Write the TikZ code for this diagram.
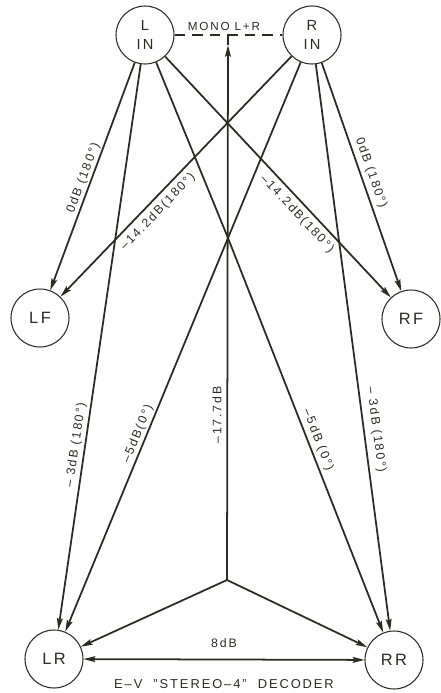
\documentclass[tikz,border=0pt]{standalone}
\usepackage{fontspec}
\setmainfont{Liberation Sans}[LetterSpace=15]
\usetikzlibrary{arrows.meta}
\definecolor{ink}{HTML}{2A2C22}
\begin{document}
\begin{tikzpicture}[x=0.03cm,y=-0.03cm,
  circ/.style={circle,draw=ink,line width=0.9pt,minimum size=1.74cm,inner sep=0pt,text=ink},
  conn/.style={draw=ink,line width=1.5pt,-{Stealth[length=10pt,width=5pt,inset=1.6pt]}},
  plainln/.style={draw=ink,line width=1.5pt},
  lab/.style={font=\fontsize{10.5}{12}\selectfont,text=ink,inner sep=0pt}]
\useasboundingbox (0,0) rectangle (440,693);
% nodes
\node[circ,align=center,font=\fontsize{12.5}{17}\selectfont] (LIN) at (145,35) {L\\IN};
\node[circ,align=center,font=\fontsize{12.5}{17}\selectfont] (RIN) at (312,35) {R\\IN};
\node[circ,font=\fontsize{14}{16}\selectfont] (LF) at (40,318) {LF};
\node[circ,font=\fontsize{14}{16}\selectfont] (RF) at (411,319) {RF};
\node[circ,font=\fontsize{14}{16}\selectfont] (LR) at (54,659) {LR};
\node[circ,font=\fontsize{14}{16}\selectfont] (RR) at (394,660) {RR};
\coordinate (J) at (228,238);
\coordinate (BJ) at (227,580);
\coordinate (T) at (228,35);
\coordinate (Tip) at (228,45);
% mono line
\draw[plainln,line width=1.2pt,dash pattern=on 9pt off 6pt] (LIN) -- (RIN);
\node[lab,font=\fontsize{10}{12}\selectfont] (mono) at (224,26) {MONO L+R};
% from L IN
\draw[conn] (LIN) -- (LF);
\draw[conn] (LIN) -- (LR);
\draw[plainln] (LIN) -- (J);
\draw[conn] (LIN) -- (RF);
% from R IN
\draw[conn] (RIN) -- (LF);
\draw[plainln] (RIN) -- (J);
\draw[conn] (RIN) -- (RR);
\draw[conn] (RIN) -- (RF);
% from junction
\draw[conn] (J) -- (LR);
\draw[conn] (J) -- (RR);
% vertical
\draw[conn] (BJ) -- (Tip);
\draw[plainln] (Tip) -- (T);
\draw[conn] (BJ) -- (LR);
\draw[conn] (BJ) -- (RR);
% 8 dB
\draw[plainln,{Stealth[length=10pt,width=5pt,inset=1.6pt]}-{Stealth[length=10pt,width=5pt,inset=1.6pt]}] (LR) -- (RR);
\node[lab] (l8) at (224,643) {8dB};
% labels
\node[lab,rotate=69.6] (l1) at (83.5,178) {0dB (180°)};
\node[lab,rotate=46.1] (l2) at (158,212) {–14.2dB(180°)};
\node[lab,rotate=-46.8] (l3) at (297,214) {–14.2dB(180°)};
\node[lab,rotate=-70.8] (l4) at (371,173) {0dB (180°)};
\node[lab,rotate=81.7] (l5) at (76,445) {– 3dB (180°)};
\node[lab,rotate=67.5] (l6) at (138,434) {–5dB(0°)};
\node[lab,rotate=90] (l7) at (217,415) {–17.7dB};
\node[lab,rotate=-68.5] (l8b) at (318,440) {–5dB (0°)};
\node[lab,rotate=-82.5] (l9) at (376,430) {– 3dB (180°)};
\node[text=ink,font=\fontsize{11}{13}\selectfont] (cap) at (224,684) {E–V \ "STEREO–4" \ DECODER};
\end{tikzpicture}
\end{document}
